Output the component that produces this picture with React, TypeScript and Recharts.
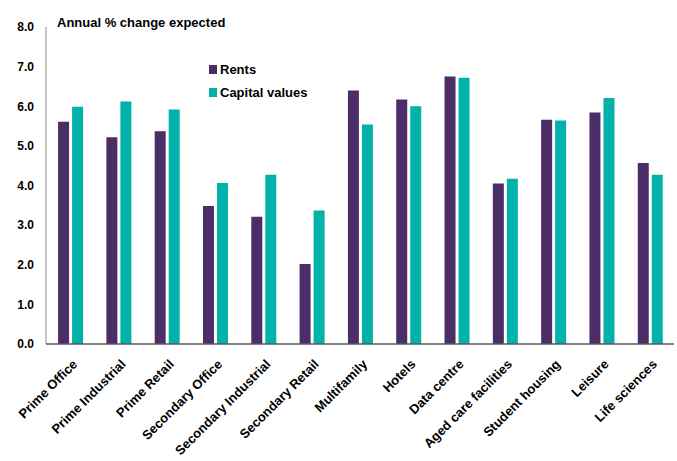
import React from "react";
import { BarChart, Bar, XAxis, YAxis } from "recharts";

const categories = [
  "Prime Office",
  "Prime Industrial",
  "Prime Retail",
  "Secondary Office",
  "Secondary Industrial",
  "Secondary Retail",
  "Multifamily",
  "Hotels",
  "Data centre",
  "Aged care facilities",
  "Student housing",
  "Leisure",
  "Life sciences",
];

const rents = [5.61, 5.22, 5.37, 3.48, 3.21, 2.02, 6.4, 6.17, 6.75, 4.05, 5.66, 5.84, 4.57];
const capitalValues = [5.99, 6.12, 5.92, 4.06, 4.27, 3.37, 5.54, 6.0, 6.72, 4.17, 5.64, 6.21, 4.27];

const yTicks = [0, 1, 2, 3, 4, 5, 6, 7, 8];

const series = [
  { key: "rents", name: "Rents", color: "#4b2d68" },
  { key: "capital", name: "Capital values", color: "#00b2a9" },
];

const data = categories.map((name, i) => ({
  name,
  rents: rents[i],
  capital: capitalValues[i],
}));

const font = "Arial, 'Liberation Sans', sans-serif";

function XTick(props: any) {
  const { x, y, payload } = props;
  const ax = x + 8;
  const ay = y + 13;
  return (
    <text
      x={ax}
      y={ay}
      textAnchor="end"
      fontSize={13}
      fontWeight="bold"
      fontFamily={font}
      fill="#000"
      transform={`rotate(-45, ${ax}, ${ay})`}
    >
      {payload.value}
    </text>
  );
}

export default function App() {
  return (
    <div style={{ position: "absolute", left: 0, top: 0, width: 677, height: 461, background: "#fff", fontFamily: font }}>
      <BarChart
        width={677}
        height={461}
        data={data}
        margin={{ top: 27, right: 3, bottom: 0, left: 0 }}
        barCategoryGap="25%"
        barGap={3}
      >
        <text x={57} y={27} fontSize={13} fontWeight="bold" fontFamily={font} fill="#000">
          Annual % change expected
        </text>
        <XAxis
          dataKey="name"
          interval={0}
          height={117}
          tickLine={false}
          axisLine={{ stroke: "#595959", strokeWidth: 1.5 }}
          tick={<XTick />}
        />
        <YAxis
          domain={[0, 8]}
          ticks={yTicks}
          width={46}
          tickLine={false}
          tickSize={6}
          tickMargin={6}
          axisLine={{ stroke: "#8c8c8c", strokeWidth: 1 }}
          tickFormatter={(v: number) => v.toFixed(1)}
          tick={{ fontSize: 12, fontWeight: "bold", fontFamily: font, fill: "#000" }}
        />
        {series.map((s) => (
          <Bar key={s.key} dataKey={s.key} name={s.name} fill={s.color} isAnimationActive={false} />
        ))}
      </BarChart>
      {/* legend overlay */}
      <div style={{ position: "absolute", left: 209, top: 58 }}>
        {series.map((s) => (
          <div key={s.key} style={{ display: "flex", alignItems: "center", height: 23, fontSize: 13, fontWeight: "bold" }}>
            <span style={{ display: "inline-block", width: 8, height: 9, background: s.color, marginRight: 3 }} />
            {s.name}
          </div>
        ))}
      </div>
    </div>
  );
}
